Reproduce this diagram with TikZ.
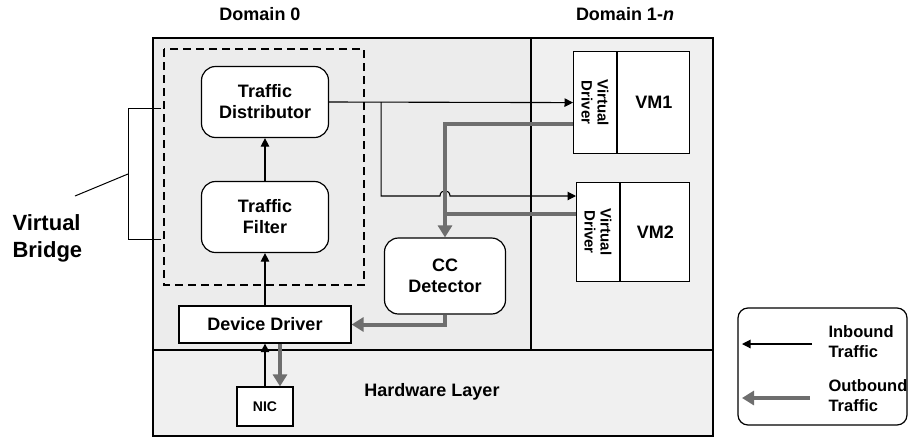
\documentclass[tikz,border=0pt]{standalone}
\usepackage{fontspec}
\setmainfont{Liberation Sans}
\usetikzlibrary{arrows.meta,positioning,calc}
\definecolor{outGray}{RGB}{110,110,110}
\definecolor{domFill}{RGB}{236,236,236}
\definecolor{hwFill}{RGB}{240,240,240}

\begin{document}
\begin{tikzpicture}[x=1pt,y=-1pt,
    every node/.style={font=\bfseries\fontsize{18}{21}\selectfont},
    rbox/.style={draw, fill=white, rounded corners=14pt, line width=1.2pt, align=center, minimum width=127pt, minimum height=71pt},
    sbox/.style={draw, fill=white, line width=1.2pt, align=center},
    inb/.style={-{Triangle[length=8.5pt,width=8.5pt]}, line width=1.1pt},
    outb/.style={-{Triangle[length=12pt,width=14pt]}, line width=4pt, draw=outGray},
    outl/.style={line width=4pt, draw=outGray}]
  \useasboundingbox (0,0) rectangle (908,437);

  % domains and hardware layer
  \fill[domFill] (153,38) rectangle (531,350);
  \fill[hwFill] (531,38) rectangle (713,350);
  \fill[hwFill] (153,350) rectangle (713,436);
  \draw[line width=1.8pt] (153,38) rectangle (713,436);
  \draw[line width=1.8pt] (531,38) -- (531,350);
  \draw[line width=1.8pt] (153,350) -- (713,350);
  \draw[dash pattern=on 8pt off 5pt, line width=1.1pt] (164,49) rectangle (364,285);

  \node (dom0) at (260,14) {Domain 0};
  \node (domn) at (625,14) {Domain 1-\textit{n}};
  \node (hw) at (432,392) {Hardware Layer};

  % domain 0 blocks
  \node[rbox] (td) at (265,102) {Traffic\\Distributor};
  \node[rbox] (tf) at (265,217) {Traffic\\Filter};
  \node[sbox, minimum width=172pt, minimum height=37pt] (dd) at (265,324.5) {Device Driver};
  \node[sbox, minimum width=56pt, minimum height=39pt, font=\bfseries\fontsize{14}{16}\selectfont] (nic) at (265,406.5) {NIC};
  \node[rbox, minimum width=121pt, minimum height=76pt] (cc) at (445,276) {CC\\Detector};

  % guest VMs
  \node[sbox, anchor=north west, minimum width=43pt, minimum height=102pt, inner sep=0pt] (vd1) at (573,51) {};
  \node[sbox, anchor=north west, minimum width=72pt, minimum height=102pt, inner sep=0pt] (vm1) at (vd1.north east) {VM1};
  \node[rotate=-90, align=center, font=\bfseries\fontsize{15}{16}\selectfont] (vdt1) at (vd1) {Virtual\\Driver};
  \node[sbox, anchor=north west, minimum width=43pt, minimum height=99pt, inner sep=0pt] (vd2) at (576,182) {};
  \node[sbox, anchor=north west, minimum width=69pt, minimum height=99pt, inner sep=0pt] (vm2) at (vd2.north east) {VM2};
  \node[rotate=-90, align=center, font=\bfseries\fontsize{15}{16}\selectfont] (vdt2) at (vd2) {Virtual\\Driver};

  % inbound traffic
  \draw[inb] (tf) -- (td);
  \draw[inb] (dd) -- (tf);
  \draw[inb] (nic) -- (dd);
  \draw[inb] (td.east) -- (vd1.west);
  \coordinate (split) at ($(td.east)+(52,0)$);
  \coordinate (in2) at ($(vd2.north west)+(0,14)$);
  \coordinate (hop) at (cc.north |- in2);
  \draw[inb] (split) -- (split |- in2) -- ($(hop)+(-5,0)$) .. controls +(0,-7) and +(0,-7) .. ($(hop)+(5,0)$) -- (in2);

  % outbound traffic
  \coordinate (out1) at ($(vd1.north west)+(0,73)$);
  \coordinate (out2) at ($(vd2.north west)+(0,32)$);
  \draw[outb] (out1) -| (cc.north);
  \draw[outl] (out2) -- (out2 -| cc.north);
  \draw[outb] (cc.south) |- (dd.east);
  \draw[outb] ($(dd.south)+(15,0)$) -- ($(nic.north)+(15,0)$);

  % virtual bridge bracket
  \node[anchor=west, align=left, font=\bfseries\fontsize{22}{27}\selectfont] (vb) at (9,238) {Virtual\\Bridge};
  \draw[line width=1pt] (161,108) -- (128,108) -- (128,239) -- (161,239);
  \coordinate (brk) at (128,174);
  \coordinate (vbtip) at (75,196);
  \draw[line width=1pt] (brk) -- (vbtip);

  % legend
  \node[draw, rounded corners=10pt, line width=1.2pt, minimum width=169pt, minimum height=117pt] (lgd) at (822.5,366.5) {};
  \node[anchor=west, align=left, font=\bfseries\fontsize{16.5}{20}\selectfont] (lin) at (825,342) {Inbound\\Traffic};
  \node[anchor=west, align=left, font=\bfseries\fontsize{16.5}{20}\selectfont] (lout) at (825,396) {Outbound\\Traffic};
  \coordinate (lin1) at (812,344);
  \coordinate (lin2) at (742,344);
  \coordinate (lout1) at (810,398);
  \coordinate (lout2) at (742,398);
  \draw[inb] (lin1) -- (lin2);
  \draw[outb] (lout1) -- (lout2);
\end{tikzpicture}
\end{document}
